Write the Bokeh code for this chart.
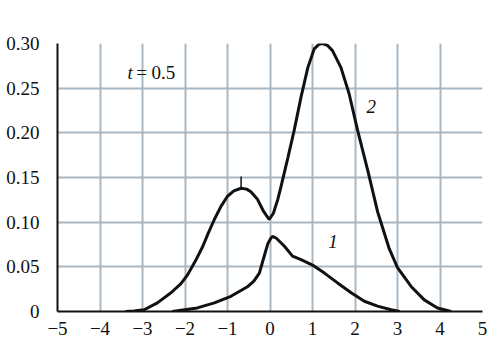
from bokeh.plotting import figure
from bokeh.models import Range1d, FixedTicker, Label
from bokeh.embed import file_html
from bokeh.resources import INLINE

# Curve 2 (bimodal)
x2 = [-3.4, -3.2, -2.96, -2.65, -2.33, -2.1, -1.94, -1.75, -1.58, -1.45, -1.31, -1.15, -1.0,
      -0.85, -0.68, -0.55, -0.45, -0.3, -0.15, -0.02, 0.08, 0.18, 0.26, 0.34, 0.42, 0.57,
      0.73, 0.89, 1.04, 1.15, 1.24, 1.35, 1.47, 1.67, 1.86, 2.06, 2.3, 2.53,
      2.8, 3.0, 3.32, 3.63, 3.94, 4.26]
y2 = [0.0, 0.0005, 0.002, 0.0097, 0.021, 0.031, 0.041, 0.057, 0.073, 0.088, 0.103, 0.118, 0.129,
      0.135, 0.138, 0.137, 0.134, 0.126, 0.112, 0.103, 0.110, 0.125, 0.140, 0.156, 0.172, 0.203,
      0.240, 0.273, 0.294, 0.299, 0.300, 0.298, 0.292, 0.273, 0.244, 0.203, 0.158, 0.112,
      0.071, 0.049, 0.028, 0.013, 0.004, 0.0]

# Curve 1
x1 = [-2.3, -2.09, -1.71, -1.31, -0.92, -0.52, -0.38, -0.25, -0.13, -0.05, 0.02, 0.06,
      0.15, 0.34, 0.53, 0.73, 1.0, 1.28, 1.59, 1.91, 2.22, 2.53, 2.85, 3.05]
y1 = [0.0, 0.0015, 0.004, 0.0097, 0.017, 0.028, 0.034, 0.043, 0.063, 0.076, 0.082, 0.084,
      0.082, 0.073, 0.062, 0.058, 0.052, 0.043, 0.032, 0.021, 0.0115, 0.006, 0.002, 0.0]

# small vertical mark at the peak of the left hump
mark_x = [-0.68]
mark_y0 = [0.138]
mark_y1 = [0.151]

x_ticks = [-5, -4, -3, -2, -1, 0, 1, 2, 3, 4, 5]
x_tick_labels = ["\u22125", "\u22124", "\u22123", "\u22122", "\u22121", "0", "1", "2", "3", "4", "5"]
y_ticks = [0, 0.05, 0.10, 0.15, 0.20, 0.25, 0.30]
y_tick_labels = ["0", "0.05", "0.10", "0.15", "0.20", "0.25", "0.30"]

FONT = "Liberation Serif"
GRID = "#a9b7c2"
INK = "#111111"

p = figure(width=501, height=337, output_backend="svg", toolbar_location=None,
           x_range=Range1d(-5, 5), y_range=Range1d(0, 0.30),
           min_border_left=57, min_border_right=19, min_border_top=43, min_border_bottom=0)
p.outline_line_color = None
p.background_fill_color = "white"

for ax in (p.xaxis[0], p.yaxis[0]):
    ax.axis_line_color = INK
    ax.axis_line_width = 2
    ax.major_tick_line_color = None
    ax.minor_tick_line_color = None
    ax.major_label_text_font = FONT
    ax.major_label_text_font_size = "19px"
    ax.major_label_text_color = INK

p.xaxis[0].ticker = FixedTicker(ticks=x_ticks)
p.xaxis[0].major_label_overrides = {t: l for t, l in zip(x_ticks, x_tick_labels)}
p.xaxis[0].major_label_standoff = 4
p.yaxis[0].ticker = FixedTicker(ticks=y_ticks)
p.yaxis[0].major_label_overrides = {t: l for t, l in zip(y_ticks, y_tick_labels)}
p.yaxis[0].major_label_standoff = 12

p.xgrid.ticker = FixedTicker(ticks=[-4, -3, -2, -1, 0, 1, 2, 3, 4])
p.ygrid.ticker = FixedTicker(ticks=[0.05, 0.10, 0.15, 0.20, 0.25])
for g in (p.xgrid[0], p.ygrid[0]):
    g.grid_line_color = GRID
    g.grid_line_width = 2

p.line(x2, y2, line_color=INK, line_width=3)
p.line(x1, y1, line_color=INK, line_width=3)
p.segment(x0=mark_x, y0=mark_y0, x1=mark_x, y1=mark_y1, line_color=INK, line_width=1.5)

def lab(x, y, text, style="italic", size="19px", align="center", baseline="middle"):
    p.add_layout(Label(x=x, y=y, text=text, text_font=FONT, text_font_style=style,
                       text_font_size=size, text_align=align, text_baseline=baseline,
                       text_color=INK))

lab(2.38, 0.229, "2")
lab(1.48, 0.078, "1")
lab(-3.29, 0.267, "t")
lab(-3.15, 0.267, "= 0.5", style="normal", align="left")
lab(5.33, 0.0, "t")
lab(-5.2, 0.303, "p", baseline="bottom")
lab(-5.0, 0.325, "*", style="normal", size="11px", baseline="bottom")

open("out.html", "w").write(file_html(p, INLINE))
